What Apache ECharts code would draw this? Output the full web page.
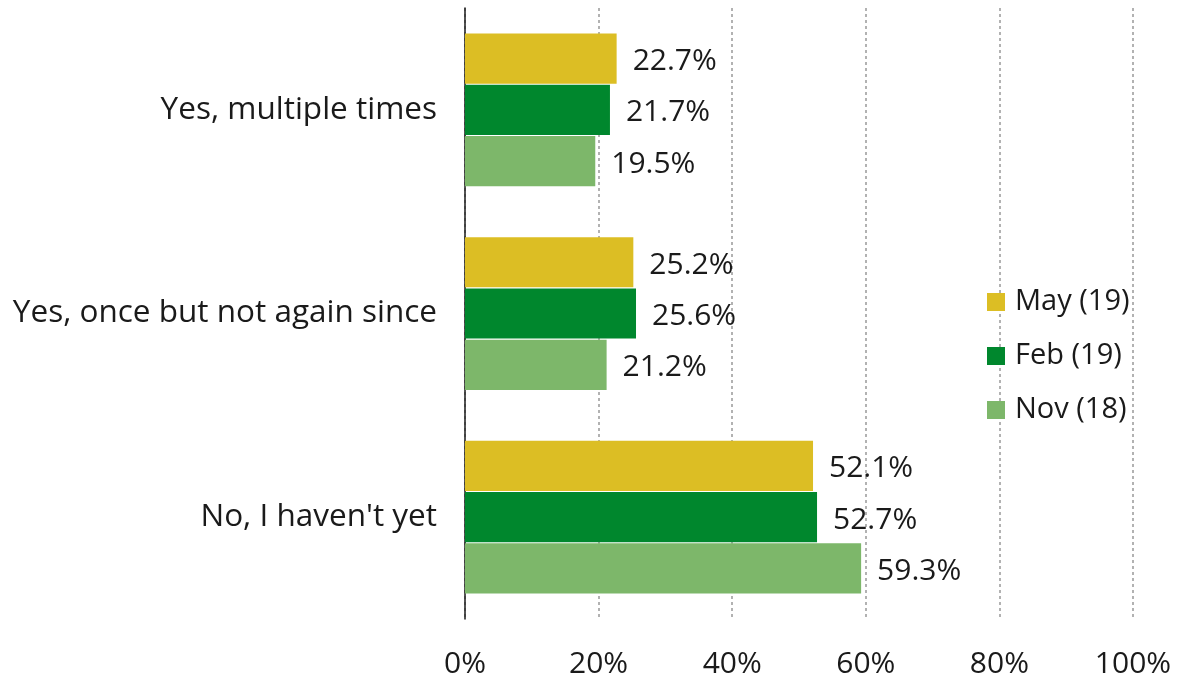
<!DOCTYPE html>
<html>
<head>
<meta charset="utf-8">
<script src="https://cdn.jsdelivr.net/npm/echarts@6/dist/echarts.min.js"></script>
<style>html,body{margin:0;padding:0;background:#fff}#c{width:1178px;height:681px}</style>
</head>
<body>
<div id="c"></div>
<script>
const categories = ["Yes, multiple times", "Yes, once but not again since", "No, I haven't yet"];
const seriesNames = ["May (19)", "Feb (19)", "Nov (18)"];
const may19 = [22.7, 25.2, 52.1];
const feb19 = [21.7, 25.6, 52.7];
const nov18 = [19.5, 21.2, 59.3];
const xTicks = [0, 20, 40, 60, 80, 100];
const colors = ["#DCBE24", "#00872D", "#7DB76A"];

const FONT = "Open Sans";
const chart = echarts.init(document.getElementById('c'));
const mk = (name, data, color) => ({
  name, type: 'bar', data,
  itemStyle: { color },
  barGap: '2%', barCategoryGap: '25%',
  label: { show: true, position: 'right', distance: 16, offset: [0, 3], formatter: p => p.value.toFixed(1) + '%',
    color: '#1a1a1a', fontSize: 30, fontFamily: FONT }
});
chart.setOption({
  animation: false,
  grid: { left: 465, right: 45, top: 8, bottom: 62, containLabel: false },
  legend: {
    orient: 'vertical', left: 982, top: 281, itemWidth: 18, itemHeight: 18, itemGap: 22,
    icon: 'rect',
    textStyle: { fontSize: 29, lineHeight: 30, color: '#1a1a1a', fontFamily: FONT, padding: [2,0,0,5] },
    data: seriesNames
  },
  xAxis: {
    type: 'value', min: xTicks[0], max: xTicks[xTicks.length-1], interval: 20,
    axisLine: { show: false }, axisTick: { show: false },
    axisLabel: { formatter: v => v + '%', fontSize: 30, color: '#1a1a1a', fontFamily: FONT, margin: 30 },
    splitLine: { show: true, lineStyle: { color: '#999', type: [3, 3], width: 1.5 } }
  },
  yAxis: {
    type: 'category', data: categories, inverse: true,
    axisLine: { show: true, lineStyle: { color: '#1a1a1a', width: 1.5 } },
    axisTick: { show: false },
    axisLabel: { fontSize: 31.5, color: '#1a1a1a', fontFamily: FONT, margin: 28, padding: [10, 0, 0, 0] }
  },
  series: [mk(seriesNames[0], may19, colors[0]), mk(seriesNames[1], feb19, colors[1]), mk(seriesNames[2], nov18, colors[2])]
});
</script>
</body>
</html>
